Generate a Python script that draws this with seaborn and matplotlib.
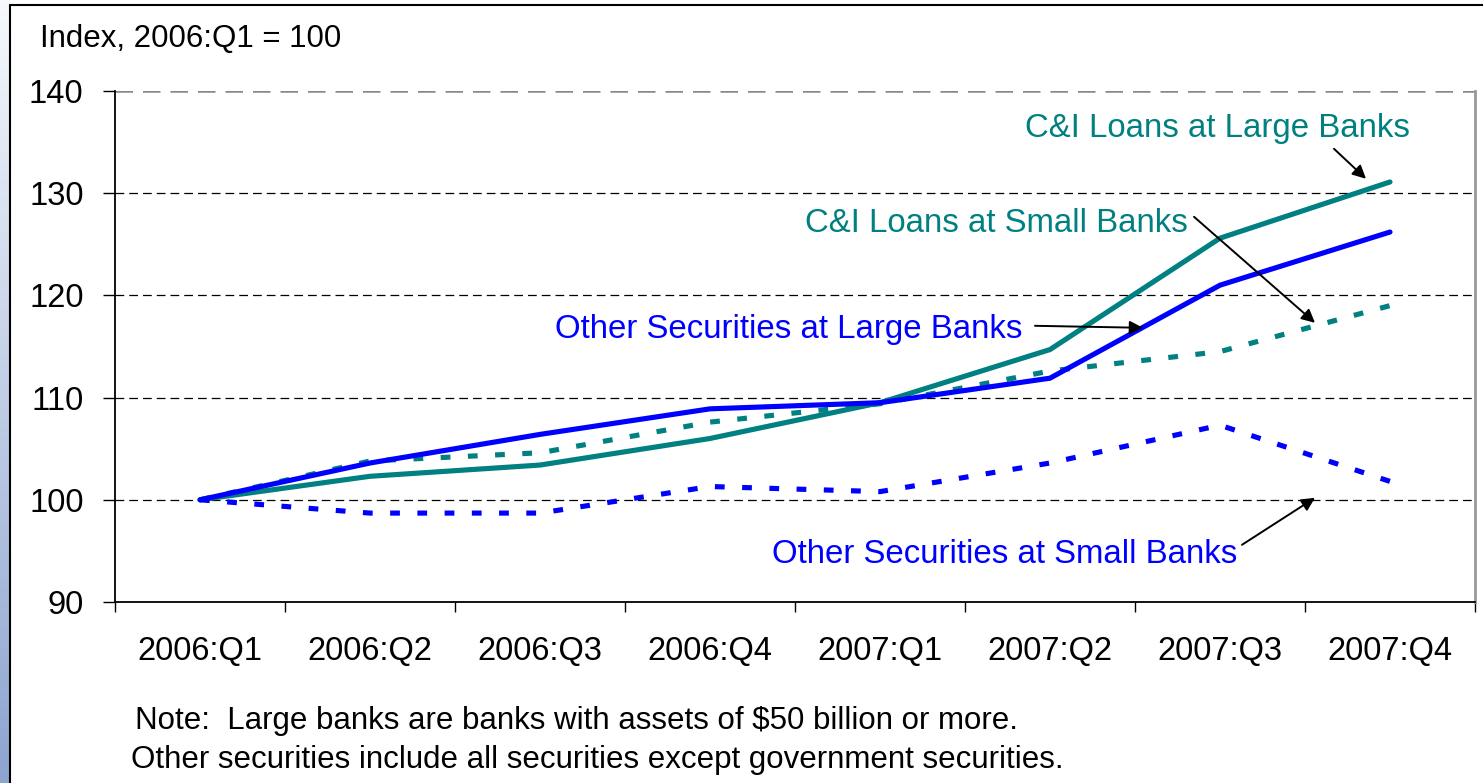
import numpy as np
import pandas as pd
import matplotlib
matplotlib.use("Agg")
import matplotlib.pyplot as plt
from matplotlib.lines import Line2D
from matplotlib.colors import LinearSegmentedColormap
import seaborn as sns

# ---------------- data ----------------
quarters = ['2006:Q1', '2006:Q2', '2006:Q3', '2006:Q4',
            '2007:Q1', '2007:Q2', '2007:Q3', '2007:Q4']
ci_large = [100, 102.3, 103.4, 106.0, 109.5, 114.7, 125.6, 131.1]
ci_small = [100, 103.8, 104.6, 107.6, 109.4, 112.6, 114.5, 119.0]
os_large = [100, 103.6, 106.4, 108.9, 109.5, 111.9, 121.0, 126.2]
os_small = [100, 98.7, 98.7, 101.3, 100.8, 103.6, 107.3, 101.8]
y_ticks = [90, 100, 110, 120, 130, 140]

series_names = ['C&I Loans at Large Banks', 'C&I Loans at Small Banks',
                'Other Securities at Large Banks', 'Other Securities at Small Banks']
series_vals = [ci_large, ci_small, os_large, os_small]

TEAL = '#008080'
BLUE = '#0000FF'
palette = {series_names[0]: TEAL, series_names[1]: TEAL,
           series_names[2]: BLUE, series_names[3]: BLUE}
dashes = {series_names[0]: '', series_names[1]: (1.9, 3.4),
          series_names[2]: '', series_names[3]: (1.9, 3.4)}

rows = []
for name, vals in zip(series_names, series_vals):
    for i, v in enumerate(vals):
        rows.append({'pos': i, 'value': v, 'series': name})
df = pd.DataFrame(rows)

# ---------------- figure ----------------
sns.set_theme(style='white')
plt.rcParams['font.family'] = ['Liberation Sans', 'DejaVu Sans']

W, H = 1483, 783
fig = plt.figure(figsize=(W / 100, H / 100), dpi=100)
fig.patch.set_facecolor('white')

# left gradient strip
strip = fig.add_axes([0, 0, 10 / W, 1])
grad = np.linspace(0, 1, 256).reshape(-1, 1)
cmap = LinearSegmentedColormap.from_list('strip', ['#F6F8FC', '#8DA4D0'])
strip.imshow(grad, aspect='auto', cmap=cmap, extent=[0, 1, 0, 1], origin='upper')
strip.set_axis_off()

# frame lines
fig.add_artist(Line2D([10 / W, 10 / W], [0, 1 - 5 / H], transform=fig.transFigure,
                      color='black', lw=1.5))
fig.add_artist(Line2D([10 / W, 1], [1 - 5 / H, 1 - 5 / H], transform=fig.transFigure,
                      color='black', lw=1.5))

ax = fig.add_axes([115 / W, 1 - 602 / H, (1475 - 115) / W, (602 - 91) / H])
ax.set_facecolor('white')

sns.lineplot(data=df, x='pos', y='value', hue='series', style='series',
             palette=palette, dashes=dashes, linewidth=3.7, legend=False,
             ax=ax, sort=False)
for ln in ax.get_lines():
    ln.set_dash_capstyle('butt')
    ln.set_solid_capstyle('round')
    ln.set_solid_joinstyle('miter')

ax.set_xlim(-0.5, len(quarters) - 0.5)
ax.set_ylim(y_ticks[0], y_ticks[-1])
ax.set_yticks(y_ticks)
ax.set_yticklabels([str(t) for t in y_ticks])
ax.set_xticks(np.arange(len(quarters) + 1) - 0.5)
ax.set_xticklabels([])
ax.set_xticks(np.arange(len(quarters)), minor=True)
ax.set_xticklabels(quarters, minor=True)
ax.set_xlabel('')
ax.set_ylabel('')

ax.tick_params(axis='y', which='major', direction='out', length=8.6, width=1.0,
               color='black', pad=14, labelsize=23.5, labelcolor='black', left=True)
ax.tick_params(axis='x', which='major', direction='out', length=7.2, width=1.0,
               color='black', bottom=True)
ax.tick_params(axis='x', which='minor', length=0, pad=24.5, labelsize=23.5,
               labelcolor='black', bottom=True)

ax.yaxis.grid(True, color='black', linestyle=(0, (7, 4)), linewidth=0.9)
ax.xaxis.grid(False)
ax.set_axisbelow(True)
ygl = ax.get_ygridlines()
ygl[-1].set_color('#888888')
ygl[-1].set_linewidth(1.8)
ygl[0].set_visible(False)

for side in ['left', 'bottom']:
    ax.spines[side].set_visible(True)
    ax.spines[side].set_color('black')
    ax.spines[side].set_linewidth(1.3)
ax.spines['top'].set_visible(False)
ax.spines['right'].set_visible(True)
ax.spines['right'].set_color('#999999')
ax.spines['right'].set_linewidth(2)

# ---------------- annotations ----------------
def px2data(px, py):
    return (px - 200) / 170.0, 100 + (500 - py) / 10.22

label_specs = [
    (series_names[0], TEAL, (1025, 137), (1334, 149), (1366, 179)),
    (series_names[1], TEAL, (805, 232), (1194, 217), (1315, 323)),
    (series_names[2], BLUE, (555, 338), (1035, 326), (1143, 328)),
    (series_names[3], BLUE, (772, 563), (1242, 545), (1315, 498)),
]
for text, col, tpos, a0, a1 in label_specs:
    tx, ty = px2data(*tpos)
    ax.text(tx, ty, text, color=col, fontsize=23.8, ha='left', va='baseline')
    x0, y0 = px2data(*a0)
    x1, y1 = px2data(*a1)
    ax.annotate('', xy=(x1, y1), xytext=(x0, y0),
                arrowprops=dict(arrowstyle='-|>', color='black', lw=1.4,
                                mutation_scale=20, shrinkA=0, shrinkB=0))

fig.text(40 / W, 1 - 47 / H, 'Index, 2006:Q1 = 100', fontsize=22.5,
         ha='left', va='baseline', color='black')
fig.text(135 / W, 1 - 729 / H,
         'Note:  Large banks are banks with assets of $50 billion or more.',
         fontsize=22.5, ha='left', va='baseline', color='black')
fig.text(131 / W, 1 - 768 / H,
         'Other securities include all securities except government securities.',
         fontsize=22.5, ha='left', va='baseline', color='black')

fig.savefig('out.png', dpi=100, facecolor='white')
